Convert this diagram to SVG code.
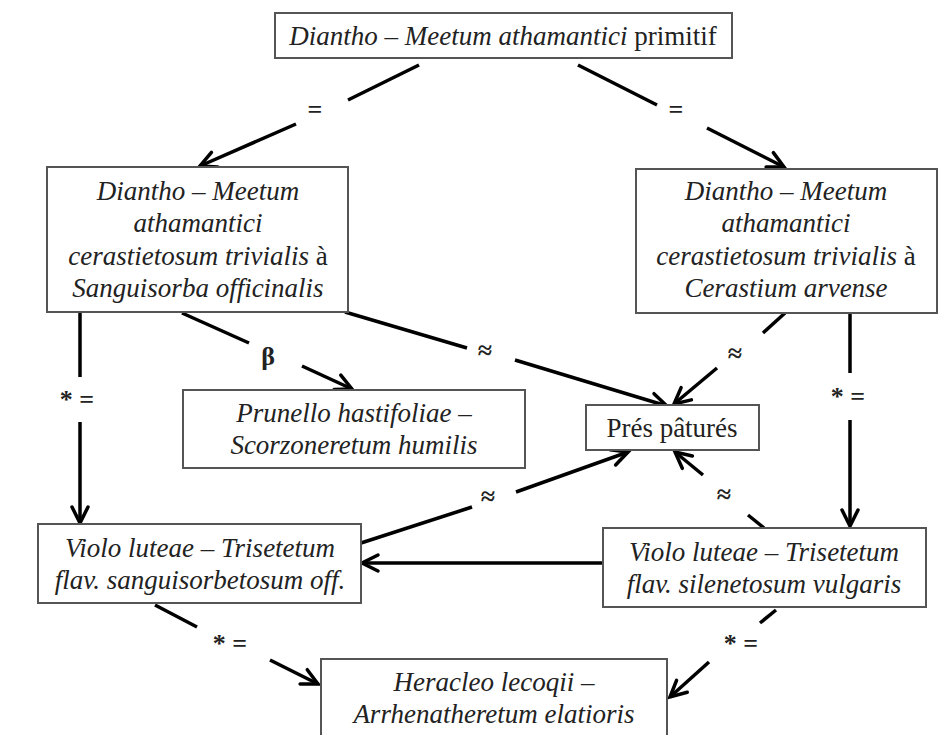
<svg xmlns="http://www.w3.org/2000/svg" width="945" height="735" viewBox="0 0 945 735">
<defs>
<marker id="ah" markerUnits="userSpaceOnUse" markerWidth="24" markerHeight="24" viewBox="0 0 24 24" refX="20" refY="12" orient="auto">
<path d="M4,4 L20,12 L4,20" fill="none" stroke="#000" stroke-width="3.5" stroke-linecap="round" stroke-linejoin="miter"/>
</marker>
</defs>
<style>
.box{fill:#fff;stroke:#555;stroke-width:2}
.t{font-family:"Liberation Serif","Times New Roman","DejaVu Serif",serif;font-size:27px;fill:#222;text-anchor:middle}
.i{font-style:italic}
.c{fill:none;stroke:#000;stroke-width:3.5;stroke-linecap:butt}
.a{marker-end:url(#ah)}
.l{font-family:"Liberation Serif","Times New Roman","DejaVu Serif",serif;font-size:26px;font-weight:bold;fill:#222;text-anchor:middle}
</style>
<rect width="945" height="735" fill="#fff"/>
<g id="connectors">
<line class="c" x1="419" y1="65" x2="348" y2="100"/>
<line class="c a" x1="296" y1="124" x2="200" y2="166"/>
<text class="l" x="315" y="118">=</text>
<line class="c" x1="578" y1="65" x2="657" y2="105"/>
<line class="c a" x1="707" y1="128" x2="784" y2="167"/>
<text class="l" x="676" y="118">=</text>
<line class="c" x1="182" y1="313" x2="249" y2="343"/>
<line class="c a" x1="302" y1="366" x2="352" y2="389"/>
<text class="l" x="268" y="365">β</text>
<line class="c" x1="345" y1="312" x2="467" y2="348"/>
<line class="c a" x1="515" y1="360" x2="667" y2="406"/>
<text class="l" x="485" y="359">≈</text>
<line class="c" x1="785" y1="313" x2="763" y2="333"/>
<line class="c a" x1="717" y1="368" x2="674" y2="404"/>
<text class="l" x="735" y="362">≈</text>
<line class="c" x1="80" y1="312" x2="80" y2="377"/>
<line class="c a" x1="80" y1="422" x2="80" y2="523"/>
<text class="l" x="77" y="408">* =</text>
<line class="c" x1="850" y1="313" x2="850" y2="373"/>
<line class="c a" x1="850" y1="420" x2="850" y2="526"/>
<text class="l" x="848" y="405">* =</text>
<line class="c" x1="361" y1="543" x2="472" y2="507"/>
<line class="c a" x1="516" y1="492" x2="628" y2="452"/>
<text class="l" x="488" y="505">≈</text>
<line class="c" x1="764" y1="528" x2="748" y2="515"/>
<line class="c a" x1="703" y1="475" x2="675" y2="452"/>
<text class="l" x="724" y="503">≈</text>
<line class="c a" x1="603" y1="563" x2="362" y2="563"/>
<line class="c" x1="155" y1="605" x2="197" y2="627"/>
<line class="c a" x1="270" y1="660" x2="318" y2="684"/>
<text class="l" x="230" y="652">* =</text>
<line class="c" x1="776" y1="610" x2="760" y2="623"/>
<line class="c a" x1="709" y1="662" x2="670" y2="697"/>
<text class="l" x="741" y="652">* =</text>
</g>
<g id="n_top">
<rect class="box" x="275" y="13" width="457" height="45"/>
<text class="t" x="503" y="45"><tspan class="i">Diantho – Meetum athamantici</tspan> primitif</text>
</g>
<g id="n_left">
<rect class="box" x="47" y="167" width="301" height="145"/>
<text class="t i" x="198" y="200">Diantho – Meetum</text>
<text class="t i" x="198" y="232">athamantici</text>
<text class="t" x="198" y="265"><tspan class="i">cerastietosum trivialis</tspan> à</text>
<text class="t i" x="198" y="297">Sanguisorba officinalis</text>
</g>
<g id="n_right">
<rect class="box" x="636" y="169" width="301" height="144"/>
<text class="t i" x="786" y="200">Diantho – Meetum</text>
<text class="t i" x="786" y="232">athamantici</text>
<text class="t" x="786" y="265"><tspan class="i">cerastietosum trivialis</tspan> à</text>
<text class="t i" x="786" y="297">Cerastium arvense</text>
</g>
<g id="n_prunello">
<rect class="box" x="183" y="390" width="342" height="78"/>
<text class="t i" x="354" y="422">Prunello hastifoliae –</text>
<text class="t i" x="354" y="454">Scorzoneretum humilis</text>
</g>
<g id="n_pres">
<rect class="box" x="586" y="405" width="173" height="45"/>
<text class="t" x="672" y="437">Prés pâturés</text>
</g>
<g id="n_violo_left">
<rect class="box" x="38" y="524" width="323" height="79"/>
<text class="t i" x="200" y="557">Violo luteae – Trisetetum</text>
<text class="t i" x="200" y="589">flav. sanguisorbetosum off.</text>
</g>
<g id="n_violo_right">
<rect class="box" x="603" y="528" width="323" height="79"/>
<text class="t i" x="764" y="561">Violo luteae – Trisetetum</text>
<text class="t i" x="764" y="593">flav. silenetosum vulgaris</text>
</g>
<g id="n_heracleo">
<rect class="box" x="321" y="659" width="346" height="90"/>
<text class="t i" x="494" y="691">Heracleo lecoqii –</text>
<text class="t i" x="494" y="723">Arrhenatheretum elatioris</text>
</g>
</svg>
